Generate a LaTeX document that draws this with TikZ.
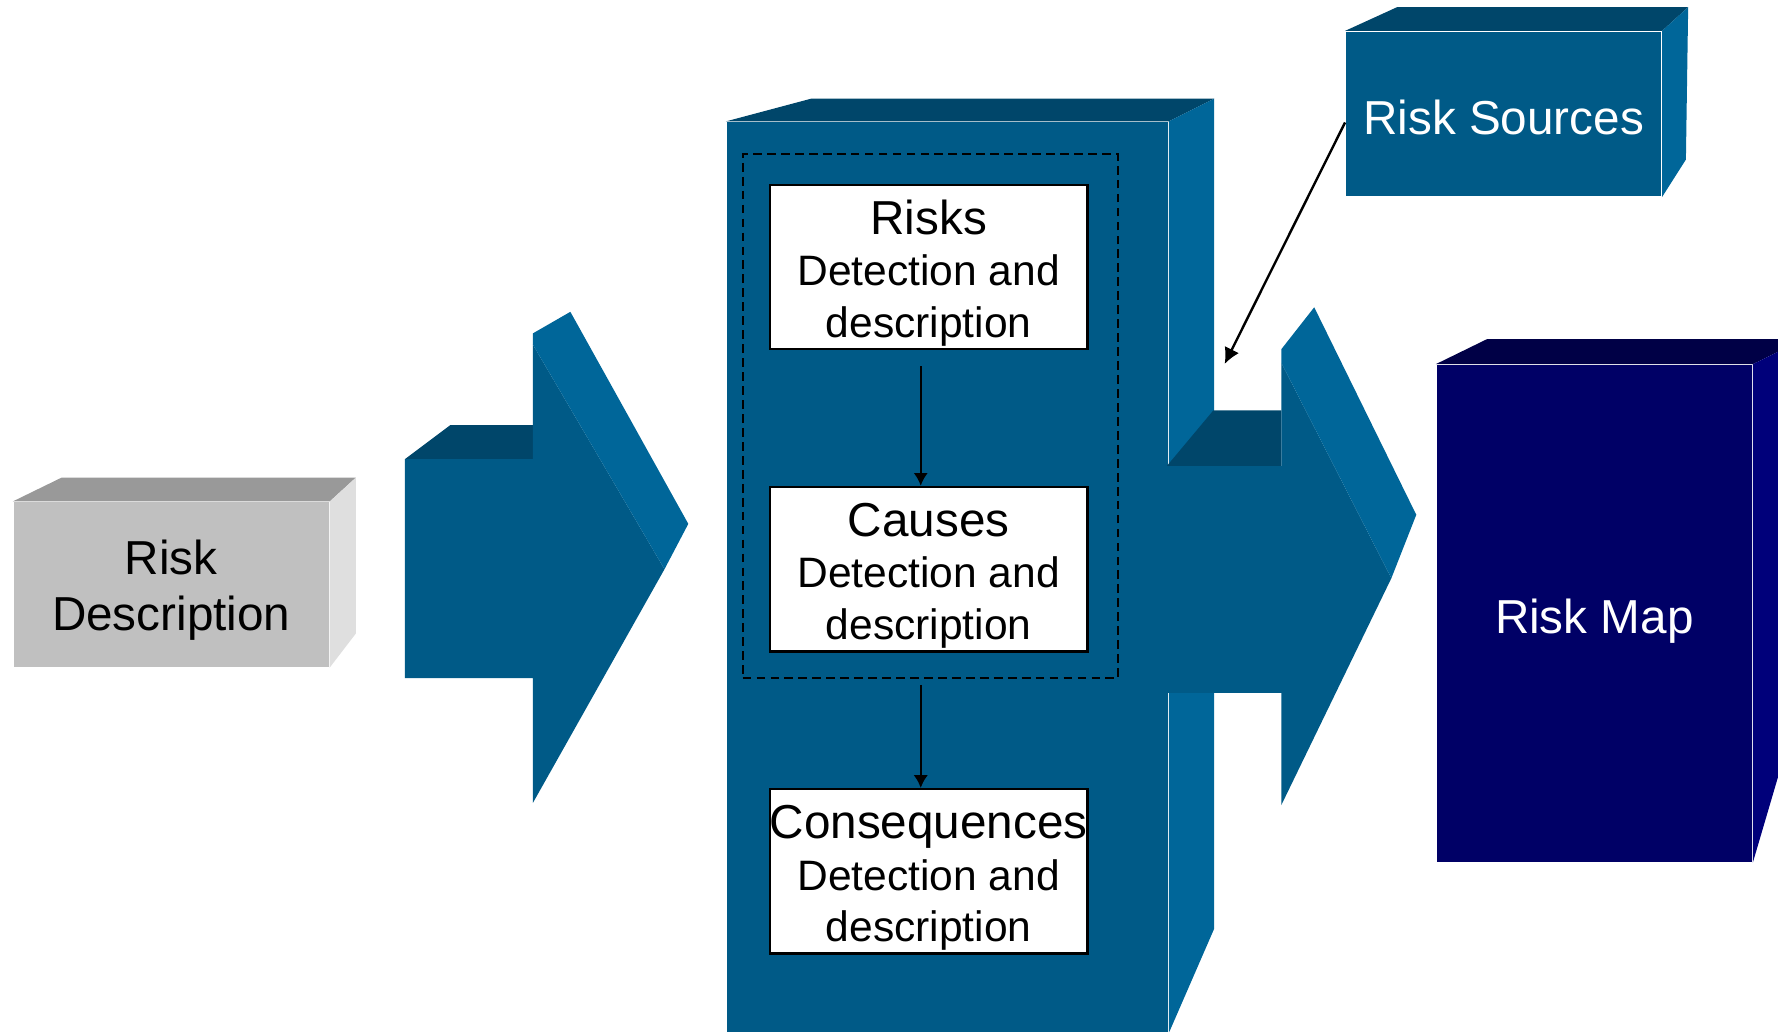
\documentclass[tikz,border=0pt]{standalone}
\usepackage{fontspec}
\setmainfont{Liberation Sans}
\usetikzlibrary{arrows.meta,calc}

\definecolor{steelfront}{HTML}{005A87}
\definecolor{steeltop}{HTML}{00466A}
\definecolor{steelside}{HTML}{006699}
\definecolor{navyfront}{HTML}{000066}
\definecolor{navytop}{HTML}{000046}
\definecolor{navyside}{HTML}{00007A}
\definecolor{greyfront}{HTML}{C0C0C0}
\definecolor{greytop}{HTML}{999999}
\definecolor{greyside}{HTML}{DFDFDF}

\begin{document}
\begin{tikzpicture}[x=0.01cm,y=-0.01cm,
  bigfont/.style={font=\fontsize{11.95pt}{14.05pt}\selectfont},
  blockface/.style={inner sep=0pt, align=center, bigfont},
  stage/.style={draw=black, line width=0.6pt, fill=white, inner sep=0pt,
    minimum width=2.8cm, minimum height=1.45cm, align=center,
    font=\fontsize{10.67pt}{12.9pt}\selectfont},
  flow/.style={-{Latex[length=3.2pt,width=3.6pt]}, line width=0.6pt},
  feed/.style={-{Latex[length=4pt,width=4pt]}, line width=0.6pt},
]
\useasboundingbox (0,0) rectangle (1568,910);
\clip (0,0) rectangle (1568,910);

% grey input block
\node[blockface, fill=greyfront, minimum width=2.78cm, minimum height=1.45cm] (rd)
  at (151,515.5) {\rule{0pt}{11.25pt}Risk\\Description};
\fill[greytop] (rd.north west) -- ($(rd.north west)+(43,-21)$)
  -- ($(rd.north east)+(23,-21)$) -- (rd.north east) -- cycle;
\fill[greyside] (rd.north east) -- ($(rd.north east)+(23,-21)$)
  -- ($(rd.south east)+(23,-30)$) -- (rd.south east) -- cycle;

% left block arrow
\fill[steeltop] (357,405) -- (397,375) -- (470,375) -- (470,405) -- cycle;
\fill[steelfront] (357,405) -- (470,405) -- (470,304) -- (586,502) -- (470,708)
  -- (470,598) -- (357,598) -- cycle;
\fill[steelside] (470,294) -- (503,275) -- (607,462) -- (586,502) -- (470,304) -- cycle;

% central process block
\node[fill=steelfront, inner sep=0pt, minimum width=3.89cm, minimum height=8.02cm] (blk)
  at (835.5,509) {};
\fill[steeltop] (blk.north west) -- ($(blk.north west)+(75,-20)$)
  -- ($(blk.north east)+(40,-20)$) -- (blk.north east) -- cycle;
\fill[steelside] (blk.north east) -- ($(blk.north east)+(40,-20)$)
  -- ($(blk.south east)+(40,-92)$) -- (blk.south east) -- cycle;

% right block arrow
\fill[steeltop] (1029,411) -- (1070,362) -- (1130,362) -- (1130,411) -- cycle;
\fill[steelfront] (1028,411) -- (1130,411) -- (1130,320) -- (1227,510) -- (1130,710)
  -- (1130,611) -- (1028,611) -- cycle;
\fill[steelside] (1130,308) -- (1159,271) -- (1249,454) -- (1227,510) -- (1130,320) -- cycle;

% grouping frame and stages
\node[draw=black, line width=0.5pt, dash pattern=on 2.2pt off 1.3pt, inner sep=0pt,
  minimum width=3.31cm, minimum height=4.62cm] (grp) at (820.5,367) {};

\node[stage] (risks) at (819,235.5)
  {{\fontsize{11.95pt}{12.9pt}\selectfont\rule{0pt}{11.6pt}Risks}\\Detection and\\description};
\node[stage] (causes) at (819,502)
  {{\fontsize{11.95pt}{12.9pt}\selectfont\rule{0pt}{11.6pt}Causes}\\Detection and\\description};
\node[stage] (cons) at (819,768.5)
  {{\fontsize{11.95pt}{12.9pt}\selectfont\rule{0pt}{11.6pt}Consequences}\\Detection and\\description};

\coordinate (axis) at (812,0);
\draw[flow] ($(risks.south -| axis)+(0,14)$) -- (causes.north -| axis);
\draw[flow] ($(grp.south -| axis)+(0,5)$) -- (cons.north -| axis);

% risk sources block
\node[blockface, fill=steelfront, text=white, minimum width=2.78cm, minimum height=1.45cm,
  text height=11pt, text depth=0.5pt] (rs) at (1326,100.5) {Risk Sources};
\fill[steeltop] (rs.north west) -- ($(rs.north west)+(46,-21)$)
  -- ($(rs.north east)+(23,-21)$) -- (rs.north east) -- cycle;
\fill[steelside] (rs.north east) -- ($(rs.north east)+(23,-21)$)
  -- ($(rs.south east)+(21,-33)$) -- (rs.south east) -- cycle;

\coordinate (rstip) at (1080,321);
\draw[feed] ($(rs.west)+(0,7.5)$) -- (rstip);

% risk map block
\node[blockface, fill=navyfront, text=white, minimum width=2.78cm, minimum height=4.38cm,
  text height=11pt, text depth=1pt] (rm) at (1406,541) {Risk Map};
\fill[navytop] (rm.north west) -- ($(rm.north west)+(45,-22)$)
  -- ($(rm.north east)+(45,-22)$) -- (rm.north east) -- cycle;
\fill[navyside] (rm.north east) -- ($(rm.north east)+(45,-22)$)
  -- ($(rm.south east)+(45,-153)$) -- (rm.south east) -- cycle;
\end{tikzpicture}
\end{document}
